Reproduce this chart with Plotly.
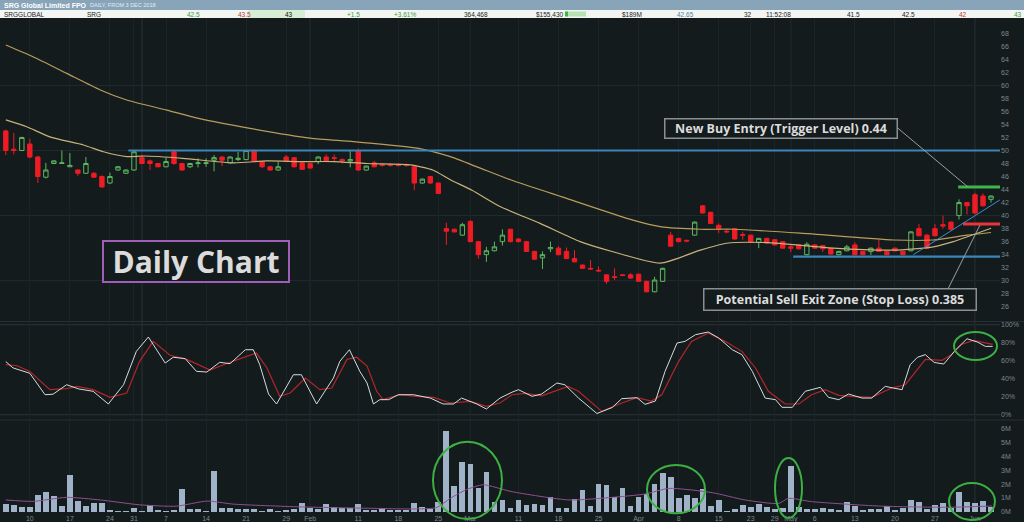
import plotly.graph_objects as go
import pandas as pd

# ---------------- data ----------------
holidays = ['2018-12-25', '2018-12-26', '2019-01-01', '2019-01-28',
            '2019-04-19', '2019-04-22', '2019-04-25']
dates = [d.strftime('%Y-%m-%d') for d in pd.bdate_range('2018-12-05', '2019-06-05')
         if d.strftime('%Y-%m-%d') not in holidays]

opens = [53.0, 50.2, 50.0, 51.0, 49.0, 45.9, 48.0, 48.0, 47.5, 47.0,
         46.5, 46.5, 46.0, 45.0, 47.0, 46.5, 47.0, 48.9, 48.4, 48.0,
         47.5, 49.8, 48.0, 47.5, 48.0, 48.0, 48.5, 49.0, 48.1, 48.6,
         48.6, 50.0, 48.3, 47.5, 47.0, 49.0, 48.9, 48.1, 48.0, 48.3,
         49.0, 48.9, 48.6, 48.4, 50.0, 47.0, 48.1, 47.8, 47.8, 47.8,
         47.8, 47.5, 45.0, 46.0, 45.0, 38.0, 37.9, 37.0, 39.1, 36.0,
         34.0, 34.6, 36.0, 37.9, 36.4, 36.0, 34.5, 33.5, 34.9, 35.0,
         34.5, 33.4, 32.4, 31.9, 31.6, 30.9, 30.6, 30.9, 30.9, 31.0,
         29.9, 28.3, 29.9, 37.0, 36.5, 36.2, 37.0, 41.5, 40.5, 38.5,
         37.6, 38.0, 37.1, 37.0, 35.9, 36.5, 36.3, 36.0, 35.2, 35.5,
         34.0, 35.5, 35.4, 35.0, 34.0, 34.6, 35.5, 34.5, 34.5, 35.0,
         34.5, 35.0, 34.5, 34.6, 38.0, 37.0, 38.0, 38.6, 39.0, 40.0,
         42.0, 43.2, 43.0, 42.5]
highs = [53.2, 52.7, 52.1, 51.8, 49.2, 48.1, 48.5, 50.0, 49.6, 47.1,
         49.0, 46.7, 46.2, 46.6, 47.6, 47.1, 50.1, 49.3, 48.6, 48.1,
         48.9, 50.1, 48.1, 48.1, 48.8, 48.8, 49.3, 49.1, 49.1, 49.8,
         50.1, 50.2, 48.4, 47.6, 48.3, 49.3, 49.0, 48.2, 48.1, 49.1,
         49.4, 49.4, 48.8, 50.0, 50.3, 47.7, 48.4, 48.1, 48.0, 48.0,
         48.0, 47.6, 45.7, 46.1, 45.1, 38.9, 38.0, 38.9, 39.3, 36.1,
         35.2, 36.0, 37.9, 38.0, 36.5, 36.1, 34.6, 34.5, 36.0, 35.3,
         35.1, 34.7, 32.5, 33.2, 32.2, 31.0, 31.9, 31.0, 31.2, 31.1,
         30.0, 30.6, 32.0, 37.5, 36.6, 36.3, 39.1, 41.6, 40.6, 38.8,
         37.9, 38.1, 37.5, 37.1, 36.6, 36.6, 36.4, 36.1, 35.5, 35.6,
         35.9, 35.6, 35.5, 35.1, 34.6, 35.5, 35.9, 34.6, 35.1, 36.3,
         34.6, 35.1, 34.6, 37.6, 38.7, 37.2, 38.7, 40.0, 39.1, 42.5,
         42.0, 43.5, 43.4, 43.1]
lows = [49.3, 49.4, 49.9, 48.8, 45.0, 45.7, 48.0, 48.0, 47.5, 46.1,
        46.4, 45.8, 44.3, 44.9, 46.9, 46.4, 46.9, 47.9, 47.0, 47.4,
        47.4, 47.8, 46.9, 47.3, 47.4, 47.5, 46.8, 47.6, 48.0, 48.4,
        48.5, 48.2, 47.3, 46.9, 46.9, 48.3, 47.4, 47.0, 47.2, 47.9,
        48.3, 48.3, 48.0, 47.4, 46.9, 46.9, 47.4, 47.5, 47.5, 47.5,
        47.5, 43.9, 44.9, 44.9, 43.3, 35.5, 37.4, 36.9, 35.9, 33.4,
        32.9, 34.5, 35.4, 35.9, 35.9, 34.4, 33.2, 31.8, 34.4, 33.9,
        33.3, 32.8, 31.8, 31.7, 31.4, 29.5, 30.1, 30.7, 30.3, 29.8,
        28.2, 28.2, 29.8, 35.2, 35.9, 35.9, 36.9, 40.3, 38.7, 37.3,
        37.3, 36.3, 36.3, 35.8, 35.0, 35.7, 35.4, 34.9, 34.4, 34.8,
        33.9, 34.9, 34.4, 34.0, 33.9, 34.5, 33.9, 33.9, 33.95, 34.4,
        33.9, 34.5, 33.9, 34.5, 36.8, 34.9, 36.8, 38.0, 37.8, 39.4,
        40.2, 40.2, 41.4, 42.0]
closes = [50.0, 50.0, 52.0, 49.0, 46.0, 47.0, 48.4, 48.1, 47.7, 46.5,
          48.0, 45.9, 44.4, 46.0, 47.5, 47.0, 49.8, 48.0, 48.0, 47.5,
          48.3, 48.0, 47.0, 48.0, 48.1, 48.1, 48.9, 48.5, 49.0, 48.8,
          50.0, 48.3, 47.5, 47.0, 47.5, 48.4, 47.5, 47.1, 47.3, 49.0,
          48.4, 48.8, 48.4, 48.6, 47.0, 47.6, 47.5, 47.7, 47.7, 47.7,
          47.7, 45.0, 45.6, 45.0, 43.4, 37.6, 37.5, 38.6, 36.0, 34.0,
          34.6, 35.2, 37.0, 36.0, 36.0, 34.5, 33.3, 34.0, 35.1, 34.0,
          33.4, 32.9, 31.9, 31.8, 31.5, 29.9, 30.5, 30.8, 30.4, 29.9,
          28.3, 30.1, 31.9, 35.3, 36.0, 36.1, 39.0, 40.4, 38.8, 37.9,
          37.5, 36.4, 37.0, 35.9, 36.5, 35.8, 35.5, 35.0, 35.0, 34.9,
          35.6, 35.0, 34.9, 34.1, 34.5, 35.2, 34.0, 34.0, 35.0, 34.5,
          34.0, 34.6, 34.0, 37.5, 36.9, 35.0, 36.9, 38.4, 37.9, 42.0,
          41.5, 40.4, 41.5, 43.0]
volume_m = [0.56, 0.49, 0.32, 0.32, 1.19, 1.40, 1.14, 0.41, 2.66, 0.78,
            0.41, 0.65, 0.65, 0.12, 0.08, 0.07, 0.24, 0.07, 0.46, 0.12,
            0.07, 0.12, 1.62, 0.19, 0.19, 0.08, 2.93, 0.24, 0.29, 0.17,
            0.19, 0.19, 0.08, 0.19, 0.08, 0.12, 0.17, 0.61, 0.24, 0.19,
            0.56, 0.32, 0.24, 0.29, 0.53, 0.12, 0.12, 0.24, 0.12, 0.12,
            0.12, 0.61, 0.32, 0.17, 0.70, 5.85, 1.86, 3.62, 3.43, 1.72,
            2.85, 0.68, 0.85, 0.29, 0.85, 0.49, 0.53, 0.49, 1.04, 0.24,
            0.29, 0.92, 1.57, 0.41, 2.00, 1.93, 1.09, 1.72, 0.43, 1.06,
            1.28, 2.00, 2.83, 2.54, 0.97, 1.21, 0.99, 1.62, 0.41, 0.85,
            0.07, 0.19, 0.49, 0.36, 0.56, 0.32, 0.17, 0.24, 3.33, 0.32,
            0.19, 0.19, 0.24, 0.17, 0.12, 0.68, 0.41, 0.12, 0.19, 0.19,
            0.41, 0.12, 0.29, 0.85, 0.70, 0.17, 0.49, 0.65, 0.24, 1.40,
            0.70, 0.65, 0.78, 0.32]

# moving averages (trading-day position, value)
ma_long_x = [0, 3.4, 7.6, 11.8, 15.1, 20.1, 24.2, 30.5, 38.0, 43.4, 51.7, 55.5,
             59.0, 63.0, 70.0, 78.3, 81.7, 86.7, 90.8, 99.2, 110.8, 115.8, 120.0, 123.0]
ma_long_v = [66.2, 64.4, 61.85, 59.3, 57.75, 56.2, 54.9, 53.4, 51.9, 51.35, 50.3, 49.05,
             47.4, 45.5, 42.65, 39.3, 38.3, 37.9, 37.9, 37.3, 36.25, 36.25, 37.0, 37.4]
ma_short_x = [0, 2.6, 5.5, 9.7, 12.2, 15.1, 17.2, 22.1, 28.4, 32.6, 36.7, 40.9, 45.1,
              50.5, 53.3, 55.5, 58.2, 61.7, 66.7, 71.7, 75.8, 81.7, 86.7, 90.0, 95.0,
              103.3, 110.8, 115.8, 118.3, 123.0]
ma_short_v = [54.7, 53.65, 52.1, 50.85, 49.8, 49.05, 49.15, 48.8, 48.1, 48.4, 48.3, 48.3,
              48.0, 47.8, 47.0, 45.5, 43.9, 41.4, 38.8, 36.0, 34.45, 32.7, 34.7, 35.75,
              35.85, 35.0, 34.7, 35.2, 36.0, 38.05]
vol_ma_x = [0, 3.4, 7.6, 11.8, 16.7, 21.3, 25.1, 28.4, 36.7, 45.0, 51.3, 53.8, 55.5,
            57.5, 59.6, 63.2, 70.3, 75.7, 79.8, 82.8, 88.2, 92.3, 96.5, 97.7, 100.6,
            109.0, 117.3, 123.1]
vol_ma_v = [0.85, 0.75, 1.04, 0.85, 0.5, 0.4, 0.77, 0.55, 0.35, 0.25, 0.2, 0.3, 0.97,
            1.6, 1.95, 1.45, 0.85, 1.04, 1.28, 1.69, 1.38, 0.85, 0.6, 0.97, 0.73,
            0.41, 0.32, 0.41]

# stochastic %K (white) and %D (red)
stoch_k_x = [0, 0.9, 3.0, 4.9, 5.9, 7.6, 9.1, 10.9, 12.8, 14.7, 16.3, 17.8, 19.9, 20.9,
             22.4, 23.8, 25.1, 26.7, 28.0, 29.9, 30.9, 31.7, 32.8, 33.8, 35.9, 36.9,
             38.8, 40.9, 41.7, 42.9, 44.2, 45.1, 45.9, 46.7, 47.8, 49.0, 50.9, 53.0,
             54.6, 55.9, 56.9, 58.8, 60.0, 61.7, 63.2, 64.0, 65.7, 66.9, 68.8, 69.8,
             71.5, 73.8, 75.7, 76.9, 78.8, 79.8, 81.1, 82.3, 83.8, 84.8, 86.1, 87.7,
             89.0, 90.7, 91.9, 93.2, 94.8, 96.1, 96.9, 98.2, 99.8, 101.7, 102.7, 104.0,
             105.2, 106.9, 108.1, 109.8, 110.8, 111.9, 112.9, 113.8, 114.8, 115.9,
             117.1, 118.6, 120.0, 121.3, 122.3, 123.2]
stoch_k_v = [59, 52, 46, 22.2, 22.8, 33.3, 28.6, 26, 11.9, 33.3, 70.4, 86.3, 57.4, 63.8,
             62.3, 48.2, 47.4, 58.2, 56.7, 72.2, 72.2, 55.6, 23, 11.9, 44.4, 44.4,
             11.9, 40.7, 59.3, 72.2, 48.1, 35.2, 11.9, 16.7, 16.7, 22.2, 22.2, 18.5,
             11.9, 11.9, 18.5, 11.9, 6.3, 18.5, 25, 27.8, 20.4, 23, 35.2, 33.3,
             18.5, 1.3, 8, 17.8, 18.9, 11.5, 15.2, 48.1, 79.6, 81.5, 88.9, 91.9,
             85.2, 72.2, 66.7, 48.1, 18.5, 16.7, 8.2, 8.2, 26, 30.4, 19.3, 16.7,
             23, 18.5, 18.5, 31.5, 29.6, 27.8, 55.5, 63.7, 66.7, 58.1,
             56.3, 72.2, 84.4, 80.7, 75.9, 75.9]
stoch_d_x = [0, 1.4, 3.0, 5.5, 7.6, 8.9, 10.9, 13.0, 15.1, 16.7, 18.4, 20.5, 22.6, 25.5,
             28.4, 31.3, 32.6, 34.2, 35.5, 37.4, 39.2, 40.7, 42.6, 43.8, 45.1, 46.3,
             47.1, 49.2, 51.3, 53.4, 55.5, 58.0, 60.0, 61.7, 63.2, 64.9, 66.9, 70.2,
             71.5, 74.4, 76.9, 78.8, 80.6, 81.9, 84.0, 85.6, 87.7, 89.8, 91.9, 93.6,
             95.2, 97.3, 99.0, 100.6, 102.3, 104.0, 105.6, 108.1, 110.6, 112.3, 114.8,
             116.9, 118.1, 119.3, 120.8, 122.3, 123.2]
stoch_d_v = [55.6, 54.4, 48.1, 27.8, 28.9, 31.5, 27.8, 19.3, 24.1, 59.3, 81.5, 66.0, 61.5,
             49.6, 59.6, 68.5, 51.9, 20.4, 24.1, 40.7, 27.8, 29.6, 61.5, 63.9, 54, 26,
             16.7, 22.2, 20.4, 19.3, 13, 14.8, 9.3, 13, 22.2, 23.7, 21, 31.5,
             26, 3.7, 13, 18.9, 15.2, 22.2, 59.3, 81.5, 90.7, 81.5, 70.4, 51.9,
             26, 11.9, 11.9, 22.2, 27.8, 21.5, 20.4, 19.3, 29.6, 33.3, 61.5,
             60.4, 67, 78, 82.6, 80, 78.1]

# drawn levels (price, start position in trading days)
resistance_level, resistance_start = 50.0, 15.3
support_level, support_start = 33.7, 98.3
buy_level, buy_start = 44.4, 118.9
stop_level, stop_start = 38.7, 119.5
trend_x = [113.3, 124.1]
trend_v = [34.0, 42.4]

tick_dates = ['2018-12-10', '2018-12-17', '2018-12-24', '2018-12-31', '2019-01-07',
              '2019-01-14', '2019-01-21', '2019-01-29', '2019-02-01', '2019-02-11',
              '2019-02-18', '2019-02-25', '2019-03-01', '2019-03-11', '2019-03-18',
              '2019-03-25', '2019-04-01', '2019-04-08', '2019-04-15', '2019-04-23',
              '2019-04-29', '2019-05-01', '2019-05-06', '2019-05-13', '2019-05-20',
              '2019-05-27', '2019-06-03']
tick_text = ['10', '17', '24', '31', '7', '14', '21', '29', 'Feb', '11', '18', '25', 'Mar',
             '11', '18', '25', 'Apr', '8', '15', '23', '29', 'May', '6', '13', '20', '27', 'Jun']
month_dates = ['2019-01-02', '2019-02-01', '2019-03-01', '2019-04-01', '2019-05-01', '2019-06-03']
price_ticks = list(range(26, 70, 2))
price_grid = [30, 40, 50, 60]
stoch_ticks = [0, 20, 40, 60, 80, 100]
vol_ticks = [0, 1, 2, 3, 4, 5, 6]

# ---------------- styling ----------------
BG = '#141b1d'
GREEN = '#5cb860'
RED = '#ee1c24'
TICK = '#7d878a'
FONT = 'Liberation Sans'

W, H = 1024, 522
ML, MR, MT, MB = 0, 24, 18, 9
PW, PH = W - ML - MR, H - MT - MB


def px(xp):
    return (xp - ML) / PW


def py(yp):
    return (H - MB - yp) / PH


X_RANGE = [-0.724, 124.12]
x = list(range(len(dates)))
tickvals = [dates.index(d) for d in tick_dates]
month_idx = [dates.index(d) for d in month_dates]

fig = go.Figure()

fig.add_trace(go.Candlestick(
    x=x, open=opens, high=highs, low=lows, close=closes,
    increasing=dict(line=dict(color=GREEN, width=1), fillcolor='rgba(0,0,0,0)'),
    decreasing=dict(line=dict(color=RED, width=1), fillcolor=RED),
    whiskerwidth=0, showlegend=False, xaxis='x', yaxis='y', hoverinfo='skip'))

fig.add_trace(go.Scatter(x=ma_long_x, y=ma_long_v, mode='lines', line=dict(color='#b89d5c', width=1.2, shape='spline', smoothing=0.6),
                         showlegend=False, xaxis='x', yaxis='y', hoverinfo='skip'))
fig.add_trace(go.Scatter(x=ma_short_x, y=ma_short_v, mode='lines', line=dict(color='#c9b27a', width=1.2, shape='spline', smoothing=0.6),
                         showlegend=False, xaxis='x', yaxis='y', hoverinfo='skip'))

# level lines
for lvl, start, col, w in [(resistance_level, resistance_start, '#3a86b8', 2.2),
                           (support_level, support_start, '#3a86b8', 2.2),
                           (buy_level, buy_start, '#3cb54a', 3),
                           (stop_level, stop_start, '#e8343c', 3)]:
    fig.add_trace(go.Scatter(x=[start, X_RANGE[1]], y=[lvl, lvl], mode='lines', line=dict(color=col, width=w),
                             showlegend=False, xaxis='x', yaxis='y', hoverinfo='skip', cliponaxis=True))
fig.add_trace(go.Scatter(x=trend_x, y=trend_v, mode='lines', line=dict(color='#3c8fcc', width=1),
                         showlegend=False, xaxis='x', yaxis='y', hoverinfo='skip'))

# stochastic
fig.add_trace(go.Scatter(x=stoch_d_x, y=stoch_d_v, mode='lines', line=dict(color='#b3262b', width=1.2),
                         showlegend=False, xaxis='x', yaxis='y2', hoverinfo='skip'))
fig.add_trace(go.Scatter(x=stoch_k_x, y=stoch_k_v, mode='lines', line=dict(color='#d5dcdf', width=1),
                         showlegend=False, xaxis='x', yaxis='y2', hoverinfo='skip'))

# volume
fig.add_trace(go.Bar(x=x, y=volume_m, marker=dict(color='#9fb2c7', line=dict(width=0)), width=0.72,
                     showlegend=False, xaxis='x', yaxis='y3', hoverinfo='skip'))
fig.add_trace(go.Scatter(x=vol_ma_x, y=vol_ma_v, mode='lines', line=dict(color='#8e4f8e', width=1, shape='spline', smoothing=0.6),
                         showlegend=False, xaxis='x', yaxis='y3', hoverinfo='skip'))

shapes = []
# price horizontal grid
for g in price_grid:
    shapes.append(dict(type='line', xref='x', yref='y', x0=X_RANGE[0], x1=X_RANGE[1], y0=g, y1=g,
                       line=dict(color='#222b2e', width=1), layer='below'))
for g in [0, 100]:
    shapes.append(dict(type='line', xref='x', yref='y2', x0=X_RANGE[0], x1=X_RANGE[1], y0=g, y1=g,
                       line=dict(color='#2a3438', width=1), layer='below'))
# month lines across whole chart
for m in month_idx:
    shapes.append(dict(type='line', xref='x', yref='paper', x0=m, x1=m, y0=0, y1=1,
                       line=dict(color='#2a3438', width=1), layer='below'))
# panel separators
for sep in [321.5, 420]:
    shapes.append(dict(type='line', xref='paper', yref='paper', x0=0, x1=W / PW, y0=py(sep), y1=py(sep),
                       line=dict(color='#263034', width=1), layer='below'))

# header bars
shapes.append(dict(type='rect', xref='paper', yref='paper', x0=px(0), x1=px(W), y0=py(10), y1=py(0),
                   fillcolor='#88a4b9', line=dict(width=0), layer='above'))
shapes.append(dict(type='rect', xref='paper', yref='paper', x0=px(0), x1=px(W), y0=py(18), y1=py(10),
                   fillcolor='#f3f5f3', line=dict(width=0), layer='above'))
shapes.append(dict(type='rect', xref='paper', yref='paper', x0=px(248), x1=px(305), y0=py(18), y1=py(10),
                   fillcolor='#d6eed3', line=dict(width=0), layer='above'))
shapes.append(dict(type='rect', xref='paper', yref='paper', x0=px(565), x1=px(586), y0=py(16.5), y1=py(11.5),
                   fillcolor='#b6e3b4', line=dict(width=0), layer='above'))
shapes.append(dict(type='rect', xref='paper', yref='paper', x0=px(565), x1=px(568), y0=py(16.5), y1=py(11.5),
                   fillcolor='#3fb63f', line=dict(width=0), layer='above'))

# green highlight circles
for (x0, x1, y0, y1) in [(433, 502, 441.7, 519), (647, 705, 465, 513.3), (775, 802, 458, 518),
                         (949, 995, 483, 520), (954, 997, 332, 360)]:
    shapes.append(dict(type='circle', xref='paper', yref='paper', x0=px(x0), x1=px(x1), y0=py(y1), y1=py(y0),
                       line=dict(color='#3cb043', width=2)))

# connector lines
for (xa, ya, xb, yb) in [(898, 128.3, 968.3, 187.3), (948.3, 288.3, 980, 225)]:
    shapes.append(dict(type='line', xref='paper', yref='paper', x0=px(xa), y0=py(ya), x1=px(xb), y1=py(yb),
                       line=dict(color='#9aa0a2', width=1)))

annotations = []
# text boxes
for (text, cx, cy, w, h, size, bc, bw) in [
        ('Daily Chart', 196.3, 261.7, 184, 39, 30, '#9d5fb8', 2),
        ('New Buy Entry (Trigger Level) 0.44', 781.3, 128.3, 231, 18, 12.5, '#8a9092', 1.5),
        ('Potential Sell Exit Zone (Stop Loss) 0.385', 839.5, 299.2, 271, 20, 12.5, '#8a9092', 1.5)]:
    annotations.append(dict(text='<b>' + text + '</b>', xref='paper', yref='paper', x=px(cx), y=py(cy),
                            xanchor='center', yanchor='middle', showarrow=False, width=w, height=h,
                            align='center', valign='middle', borderpad=0, bordercolor=bc, borderwidth=bw,
                            bgcolor=BG, font=dict(family='Open Sans', size=size, color='#dcdcdc')))

# header texts
annotations.append(dict(text='<b>SRG Global Limited FPO</b>', xref='paper', yref='paper', x=px(2), y=py(5),
                        xanchor='left', yanchor='middle', showarrow=False,
                        font=dict(family=FONT, size=7, color='#ffffff')))
annotations.append(dict(text='DAILY, FROM 3 DEC 2018', xref='paper', yref='paper', x=px(88), y=py(5.5),
                        xanchor='left', yanchor='middle', showarrow=False,
                        font=dict(family=FONT, size=5.5, color='#e4ebf1')))
row_items = [(2, 'SRGGLOBAL', '#222222'), (85, 'SRG', '#222222'), (185, '42.5', '#3d9a3d'),
             (236, '43.5', '#c0392b'), (283, '43', '#111111'), (345, '+1.5', '#3d9a3d'),
             (392, '+3.61%', '#3d9a3d'), (462, '364,468', '#222222'), (534, '$155,430', '#222222'),
             (620, '$189M', '#222222'), (675, '42.65', '#5a7fa0'), (742, '32', '#222222'),
             (764, '11:52:08', '#222222'), (845, '41.5', '#222222'), (900, '42.5', '#222222'),
             (957, '42', '#c0392b'), (1012, '43', '#3d9a3d')]
for (xp, t, c) in row_items:
    annotations.append(dict(text=t, xref='paper', yref='paper', x=px(xp), y=py(14.2),
                            xanchor='left', yanchor='middle', showarrow=False,
                            font=dict(family=FONT, size=6.5, color=c)))

fig.update_layout(
    width=W, height=H, margin=dict(l=ML, r=MR, t=MT, b=MB),
    paper_bgcolor=BG, plot_bgcolor=BG, showlegend=False, bargap=0, boxgap=0.22,
    xaxis=dict(range=X_RANGE, tickvals=tickvals, ticktext=tick_text, anchor='y3',
               showgrid=True, gridcolor='#1b2326', gridwidth=1, zeroline=False, showline=False,
               ticks='', tickfont=dict(family=FONT, size=7, color=TICK),
               rangeslider=dict(visible=False), fixedrange=True),
    yaxis=dict(domain=[py(321), 1], range=[23.81, 70.35], side='right', anchor='x',
               tickvals=price_ticks, showgrid=False, zeroline=False, ticks='',
               tickfont=dict(family=FONT, size=7, color=TICK)),
    yaxis2=dict(domain=[py(419), py(322)], range=[-4.78, 103], side='right', anchor='x',
                tickvals=stoch_ticks, ticktext=[f'{v}%' for v in stoch_ticks], showgrid=False,
                zeroline=False, ticks='', tickfont=dict(family=FONT, size=7, color=TICK)),
    yaxis3=dict(domain=[0, py(420)], range=[-0.094, 6.645], side='right', anchor='x',
                tickvals=vol_ticks, ticktext=[f'{v}M' for v in vol_ticks], showgrid=False,
                zeroline=False, ticks='', tickfont=dict(family=FONT, size=7, color=TICK)),
    shapes=shapes, annotations=annotations,
)

fig.write_html('out.html', config={'displayModeBar': False, 'staticPlot': True},
               post_script="document.body.style.margin='0px';document.body.style.background='" + BG + "';")
